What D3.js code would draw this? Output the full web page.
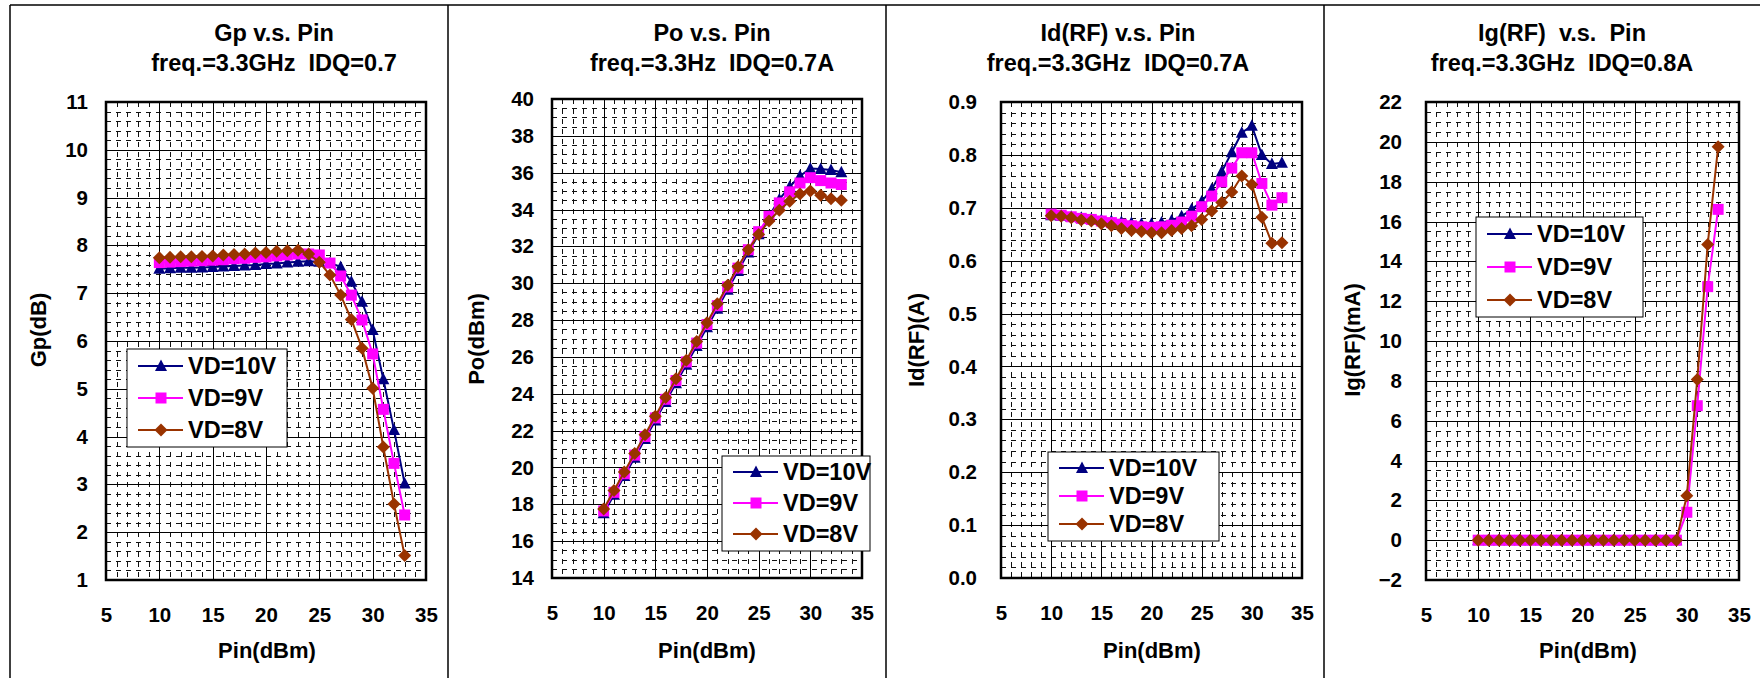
<!DOCTYPE html>
<html>
<head>
<meta charset="utf-8">
<script src="https://cdn.jsdelivr.net/npm/d3@7"></script>
<style>
  body { margin: 0; background: #fff; }
  svg { display: block; font-family: "Liberation Sans", Arial, sans-serif; font-weight: bold; }
  .ttl, .lg { white-space: pre; }
</style>
</head>
<body>
<div id="chart"></div>
<script>
'use strict'

// input power, same for every panel
const pin = [10, 11, 12, 13, 14, 15, 16, 17, 18, 19, 20, 21, 22, 23, 24, 25, 26, 27, 28, 29, 30, 31, 32, 33];
const xTicks = [5, 10, 15, 20, 25, 30, 35];
const seriesNames = ['VD=10V', 'VD=9V', 'VD=8V'];

/* Gp (dB) */
const gpVD10 = [7.51, 7.52, 7.53, 7.53, 7.54, 7.55, 7.56, 7.57, 7.58, 7.59, 7.61, 7.62, 7.64, 7.66, 7.67, 7.66, 7.63, 7.55, 7.24, 6.82, 6.23, 5.20, 4.14, 3.02];
const gpVD9  = [7.64, 7.65, 7.66, 7.67, 7.68, 7.69, 7.70, 7.72, 7.73, 7.75, 7.76, 7.78, 7.80, 7.82, 7.82, 7.80, 7.63, 7.36, 6.96, 6.44, 5.73, 4.57, 3.44, 2.36];
const gpVD8  = [7.74, 7.75, 7.76, 7.76, 7.77, 7.78, 7.80, 7.81, 7.82, 7.84, 7.85, 7.88, 7.89, 7.90, 7.82, 7.65, 7.38, 6.96, 6.45, 5.85, 5.01, 3.78, 2.59, 1.51];
const gpTicks = [1, 2, 3, 4, 5, 6, 7, 8, 9, 10, 11];

/* Po (dBm) */
const poVD10 = [17.51, 18.52, 19.53, 20.53, 21.54, 22.55, 23.56, 24.57, 25.58, 26.59, 27.61, 28.62, 29.64, 30.66, 31.67, 32.66, 33.63, 34.55, 35.24, 35.82, 36.23, 36.20, 36.14, 36.02];
const poVD9  = [17.64, 18.65, 19.66, 20.67, 21.68, 22.69, 23.70, 24.72, 25.73, 26.75, 27.76, 28.78, 29.80, 30.82, 31.82, 32.80, 33.63, 34.36, 34.96, 35.44, 35.73, 35.57, 35.44, 35.36];
const poVD8  = [17.74, 18.75, 19.76, 20.76, 21.77, 22.78, 23.80, 24.81, 25.82, 26.84, 27.85, 28.88, 29.89, 30.90, 31.82, 32.65, 33.38, 33.96, 34.45, 34.85, 35.01, 34.78, 34.59, 34.51];
const poTicks = [14, 16, 18, 20, 22, 24, 26, 28, 30, 32, 34, 36, 38, 40];

/* Id(RF) (A) */
const idVD10 = [0.686, 0.685, 0.683, 0.681, 0.679, 0.677, 0.675, 0.673, 0.671, 0.670, 0.670, 0.672, 0.676, 0.684, 0.697, 0.712, 0.735, 0.768, 0.805, 0.842, 0.855, 0.800, 0.783, 0.785];
const idVD9  = [0.688, 0.686, 0.683, 0.680, 0.678, 0.675, 0.672, 0.669, 0.666, 0.664, 0.663, 0.664, 0.667, 0.673, 0.684, 0.702, 0.722, 0.749, 0.775, 0.804, 0.804, 0.746, 0.705, 0.719];
const idVD8  = [0.685, 0.684, 0.681, 0.677, 0.675, 0.670, 0.666, 0.661, 0.657, 0.655, 0.653, 0.653, 0.657, 0.661, 0.666, 0.678, 0.694, 0.710, 0.730, 0.760, 0.744, 0.682, 0.633, 0.634];
const idTicks = [0, 0.1, 0.2, 0.3, 0.4, 0.5, 0.6, 0.7, 0.8, 0.9];

/* Ig(RF) (mA) -- VD=10V only measured up to 29 dBm */
const igVD10 = [0, 0, 0, 0, 0, 0, 0, 0, 0, 0, 0, 0, 0, 0, 0, 0, 0, 0, 0, 0];
const igVD9  = [0, 0, 0, 0, 0, 0, 0, 0, 0, 0, 0, 0, 0, 0, 0, 0, 0, 0, 0, 0, 1.40, 6.75, 12.73, 16.61];
const igVD8  = [0, 0, 0, 0, 0, 0, 0, 0, 0, 0, 0, 0, 0, 0, 0, 0, 0, 0, 0, 0, 2.23, 8.07, 14.85, 19.75];
const igTicks = [-2, 0, 2, 4, 6, 8, 10, 12, 14, 16, 18, 20, 22];


const width = 1760;
const height = 678;

const styles = [
    { color: '#000080', shape: 'M0,-6.5L6,5L-6,5Z' },
    { color: '#FF00FF', shape: 'M-5.5,-5.5h11v11h-11Z' },
    { color: '#993300', shape: 'M0,-6.5L6.5,0L0,6.5L-6.5,0Z' }
];

const panels = [
    { title: ['Gp v.s. Pin', 'freq.=3.3GHz  IDQ=0.7'], yTitle: 'Gp(dB)',
      series: [gpVD10, gpVD9, gpVD8], yTicks: gpTicks, minor: 5, fmt: d3.format('d'),
      box: [106, 426, 102, 580], pad: 18, titleX: 274, yTitleX: 38, yTitleY: 330, xTitleX: 267,
      legend: [127, 349, 160, 98, 366, 32] },
    { title: ['Po v.s. Pin', 'freq.=3.3Hz  IDQ=0.7A'], yTitle: 'Po(dBm)',
      series: [poVD10, poVD9, poVD8], yTicks: poTicks, minor: 4, fmt: d3.format('d'),
      box: [552, 862, 99, 578], pad: 18, titleX: 712, yTitleX: 476, yTitleY: 339, xTitleX: 707,
      legend: [722, 456, 148, 95, 472, 31] },
    { title: ['Id(RF) v.s. Pin', 'freq.=3.3GHz  IDQ=0.7A'], yTitle: 'Id(RF)(A)',
      series: [idVD10, idVD9, idVD8], yTicks: idTicks, minor: 5, fmt: d3.format('.1f'),
      box: [1001, 1302, 102, 578], pad: 24, titleX: 1118, yTitleX: 916, yTitleY: 340, xTitleX: 1152,
      legend: [1048, 452, 171, 89, 468, 28] },
    { title: ['Ig(RF)  v.s.  Pin', 'freq.=3.3GHz  IDQ=0.8A'], yTitle: 'Ig(RF)(mA)',
      series: [igVD10, igVD9, igVD8], yTicks: igTicks, minor: 4, fmt: d3.format('d'),
      box: [1426, 1739, 102, 580], pad: 24, titleX: 1562, yTitleX: 1352, yTitleY: 340, xTitleX: 1588,
      legend: [1476, 217, 167, 100, 234, 33] }
];

const crisp = v => Math.round(v) + 0.5;


const svg = d3.select('#chart')
              .append('svg')
              .attr('width', width)
              .attr('height', height);

/* panel frame */
svg.append('line')
   .attr('x1', 10).attr('x2', width).attr('y1', 5).attr('y2', 5)
   .attr('stroke', '#000').attr('stroke-width', 1.5);
[10, 448, 886, 1324].forEach(x => {
    svg.append('line')
       .attr('x1', x).attr('x2', x).attr('y1', 5).attr('y2', height)
       .attr('stroke', '#000').attr('stroke-width', 1.5);
});


function drawPanel (p) {
    const [x0, x1, y0, y1] = p.box;
    const yMin = p.yTicks[0];
    const yMax = p.yTicks[p.yTicks.length - 1];
    const step = p.yTicks[1] - p.yTicks[0];

    const xScale = d3.scaleLinear().domain([5, 35]).range([x0, x1]);
    const yScale = d3.scaleLinear().domain([yMin, yMax]).range([y1, y0]);

    const g = svg.append('g');

    /* minor grid, dashed */
    const xMinor = d3.range(5, 35.001, 1).filter(v => v % 5 !== 0);
    const yMinor = d3.range(yMin, yMax + 1e-9, step / p.minor)
                     .filter((v, i) => i % p.minor !== 0);
    g.selectAll('.vminor').data(xMinor).enter().append('line')
     .attr('x1', d => crisp(xScale(d))).attr('x2', d => crisp(xScale(d)))
     .attr('y1', y0).attr('y2', y1)
     .attr('stroke', '#111').attr('stroke-width', 1).attr('stroke-dasharray', '5,5');
    g.selectAll('.hminor').data(yMinor).enter().append('line')
     .attr('x1', x0).attr('x2', x1)
     .attr('y1', d => crisp(yScale(d))).attr('y2', d => crisp(yScale(d)))
     .attr('stroke', '#111').attr('stroke-width', 1).attr('stroke-dasharray', '5,5');

    /* major grid */
    g.selectAll('.vmajor').data(xTicks).enter().append('line')
     .attr('x1', d => crisp(xScale(d))).attr('x2', d => crisp(xScale(d)))
     .attr('y1', y0).attr('y2', y1)
     .attr('stroke', '#000').attr('stroke-width', 1);
    g.selectAll('.hmajor').data(p.yTicks).enter().append('line')
     .attr('x1', x0).attr('x2', x1)
     .attr('y1', d => crisp(yScale(d))).attr('y2', d => crisp(yScale(d)))
     .attr('stroke', '#000').attr('stroke-width', 1);

    /* axes (labels only) */
    const xAxis = d3.axisBottom(xScale).tickValues(xTicks).tickSize(0).tickPadding(27);
    const yAxis = d3.axisLeft(yScale).tickValues(p.yTicks).tickSize(0).tickPadding(p.pad).tickFormat(p.fmt);

    g.append('g')
     .attr('transform', 'translate(0,' + y1 + ')')
     .call(xAxis)
     .call(a => a.select('.domain').remove())
     .selectAll('text')
     .attr('font-size', 20.5).attr('font-weight', 'bold').attr('fill', '#000')
     .attr('font-family', '"Liberation Sans", Arial, sans-serif');

    g.append('g')
     .attr('transform', 'translate(' + x0 + ',0)')
     .call(yAxis)
     .call(a => a.select('.domain').remove())
     .selectAll('text')
     .attr('font-size', 20.5).attr('font-weight', 'bold').attr('fill', '#000')
     .attr('font-family', '"Liberation Sans", Arial, sans-serif');

    /* plot border */
    g.append('rect')
     .attr('x', x0).attr('y', y0).attr('width', x1 - x0).attr('height', y1 - y0)
     .attr('fill', 'none').attr('stroke', '#000').attr('stroke-width', 2.5);

    /* series */
    p.series.forEach((vals, i) => {
        const pts = vals.map((v, j) => [pin[j], v]);
        const line = d3.line().x(d => xScale(d[0])).y(d => yScale(d[1]));
        g.append('path')
         .attr('d', line(pts))
         .attr('fill', 'none')
         .attr('stroke', styles[i].color)
         .attr('stroke-width', 2);
        g.selectAll('.m' + i).data(pts).enter().append('path')
         .attr('transform', d => 'translate(' + xScale(d[0]) + ',' + yScale(d[1]) + ')')
         .attr('d', styles[i].shape)
         .attr('fill', styles[i].color);
    });

    /* titles */
    g.append('text').attr('class', 'ttl')
     .attr('x', p.titleX).attr('y', 41)
     .attr('text-anchor', 'middle').attr('font-size', 23.5)
     .text(p.title[0]);
    g.append('text').attr('class', 'ttl')
     .attr('x', p.titleX).attr('y', 71)
     .attr('text-anchor', 'middle').attr('font-size', 23.5)
     .text(p.title[1]);

    g.append('text')
     .attr('x', p.xTitleX).attr('y', 658)
     .attr('text-anchor', 'middle').attr('font-size', 22)
     .text('Pin(dBm)');

    g.append('text')
     .attr('transform', 'translate(' + p.yTitleX + ',' + p.yTitleY + ') rotate(-90)')
     .attr('text-anchor', 'middle').attr('dy', '0.35em').attr('font-size', 22)
     .text(p.yTitle);

    /* legend: x, y, w, h, first row y, row gap */
    const [lx, ly, lw, lh, ry, rg] = p.legend;
    const lg = g.append('g');
    lg.append('rect')
      .attr('x', lx).attr('y', ly).attr('width', lw).attr('height', lh)
      .attr('fill', '#fff').attr('stroke', '#000').attr('stroke-width', 1);
    seriesNames.forEach((name, i) => {
        const yy = ry + i * rg;
        lg.append('line')
          .attr('x1', lx + 11).attr('x2', lx + 56).attr('y1', yy).attr('y2', yy)
          .attr('stroke', styles[i].color).attr('stroke-width', 2);
        lg.append('path')
          .attr('transform', 'translate(' + (lx + 34) + ',' + yy + ')')
          .attr('d', styles[i].shape)
          .attr('fill', styles[i].color);
        lg.append('text').attr('class', 'lg')
          .attr('x', lx + 61).attr('y', yy).attr('dy', '0.36em')
          .attr('font-size', 23.5)
          .text(name);
    });
}

panels.forEach(drawPanel);
</script>
</body>
</html>
